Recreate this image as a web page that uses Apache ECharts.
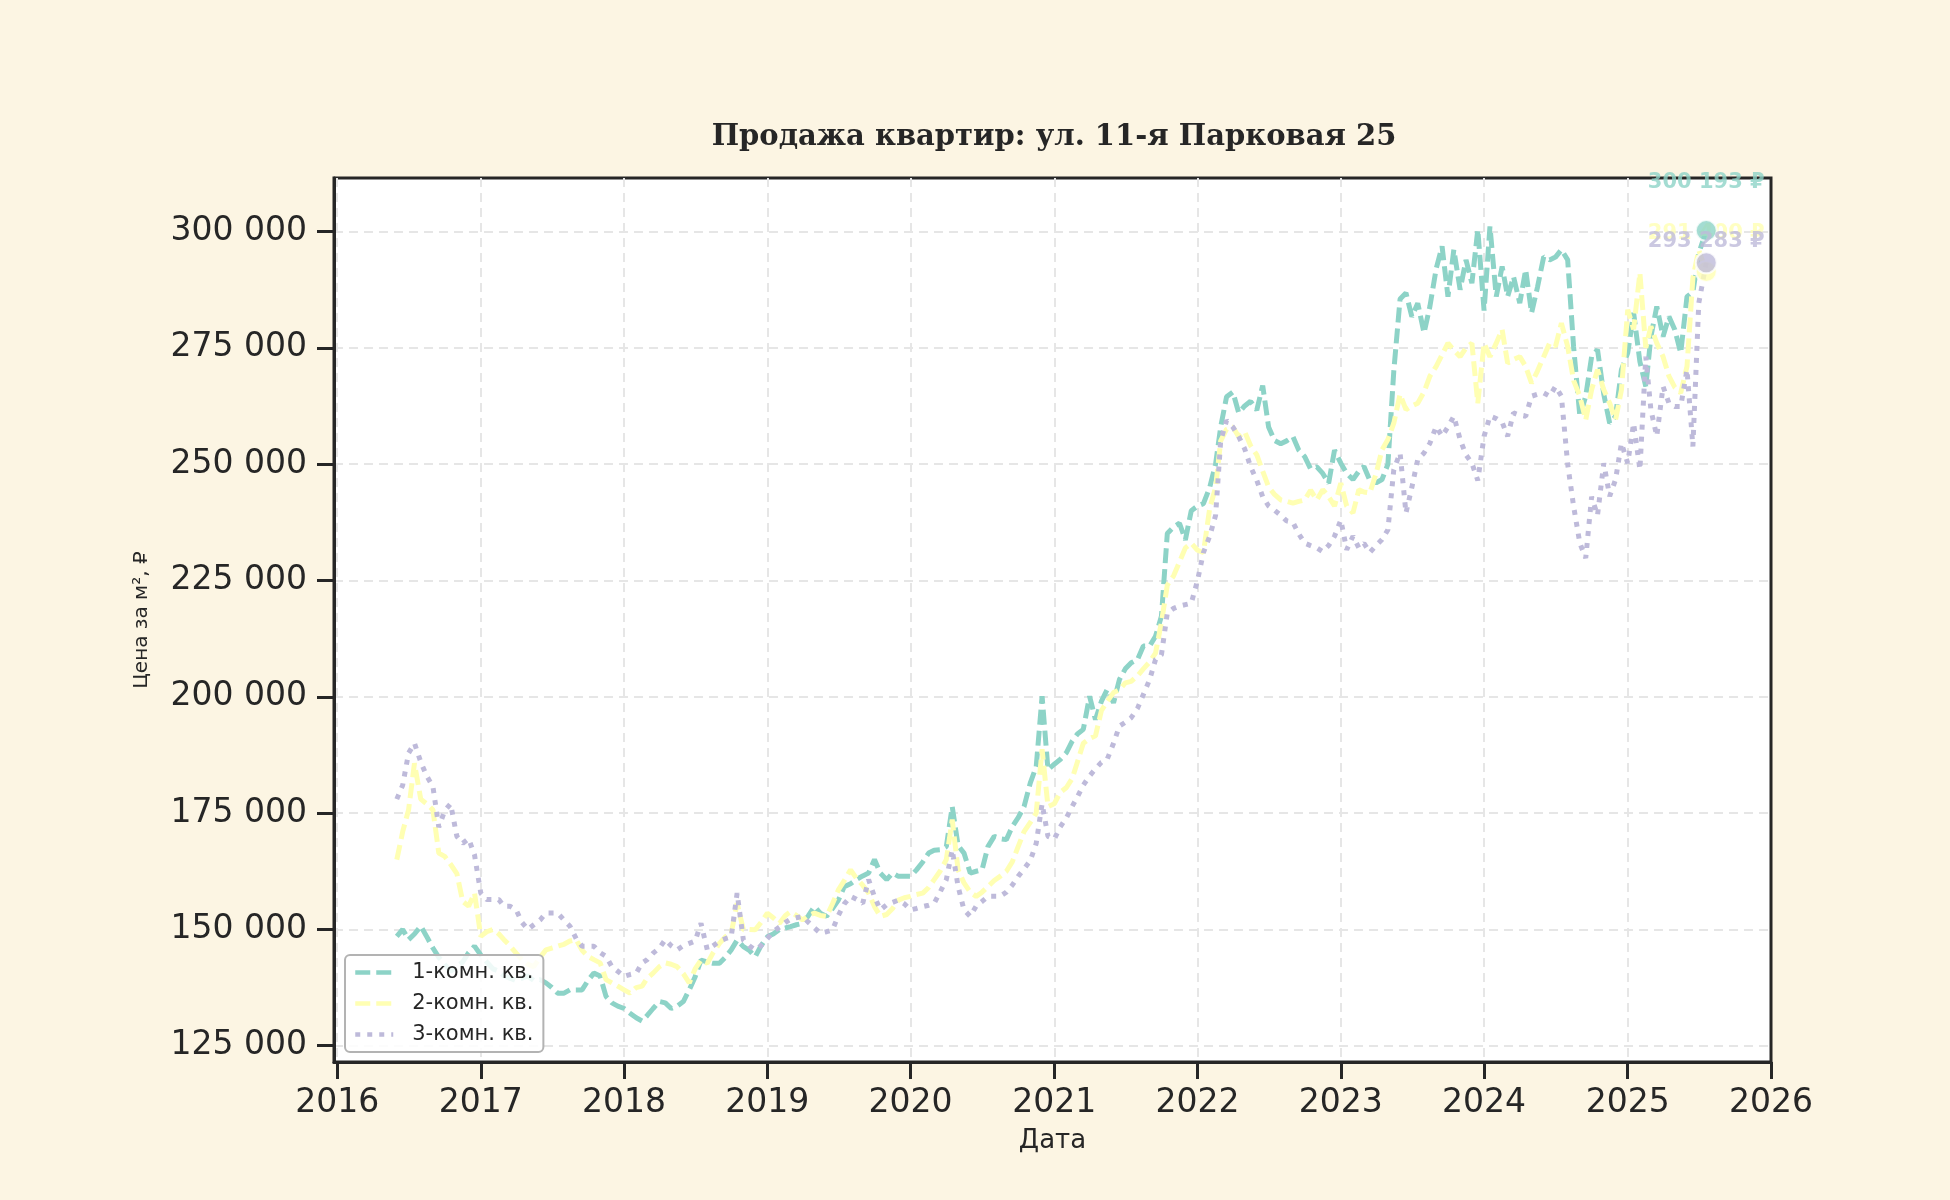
<!DOCTYPE html>
<html>
<head>
<meta charset="utf-8">
<title>Продажа квартир: ул. 11-я Парковая 25</title>
<script src="https://cdn.jsdelivr.net/npm/echarts@6.0.0/dist/echarts.min.js"></script>
<style>
  html, body { margin: 0; padding: 0; background: #fcf5e3; }
  #chart { width: 1950px; height: 1200px; }
</style>
</head>
<body>
<div id="chart"></div>
<script>
// даты наблюдений (1-е и 16-е число месяца) + последняя точка
var dates = [
  '2016-06-01','2016-06-16','2016-07-01','2016-07-16','2016-08-01','2016-08-16','2016-09-01','2016-09-16','2016-10-01','2016-10-16','2016-11-01','2016-11-16','2016-12-01','2016-12-16',
  '2017-01-01','2017-01-16','2017-02-01','2017-02-16','2017-03-01','2017-03-16','2017-04-01','2017-04-16','2017-05-01','2017-05-16','2017-06-01','2017-06-16',
  '2017-07-01','2017-07-16','2017-08-01','2017-08-16','2017-09-01','2017-09-16','2017-10-01','2017-10-16','2017-11-01','2017-11-16','2017-12-01','2017-12-16',
  '2018-01-01','2018-01-16','2018-02-01','2018-02-16','2018-03-01','2018-03-16','2018-04-01','2018-04-16','2018-05-01','2018-05-16','2018-06-01','2018-06-16',
  '2018-07-01','2018-07-16','2018-08-01','2018-08-16','2018-09-01','2018-09-16','2018-10-01','2018-10-16','2018-11-01','2018-11-16','2018-12-01','2018-12-16',
  '2019-01-01','2019-01-16','2019-02-01','2019-02-16','2019-03-01','2019-03-16','2019-04-01','2019-04-16','2019-05-01','2019-05-16','2019-06-01','2019-06-16',
  '2019-07-01','2019-07-16','2019-08-01','2019-08-16','2019-09-01','2019-09-16','2019-10-01','2019-10-16','2019-11-01','2019-11-16','2019-12-01','2019-12-16',
  '2020-01-01','2020-01-16','2020-02-01','2020-02-16','2020-03-01','2020-03-16','2020-04-01','2020-04-16','2020-05-01','2020-05-16','2020-06-01','2020-06-16',
  '2020-07-01','2020-07-16','2020-08-01','2020-08-16','2020-09-01','2020-09-16','2020-10-01','2020-10-16','2020-11-01','2020-11-16','2020-12-01','2020-12-16',
  '2021-01-01','2021-01-16','2021-02-01','2021-02-16','2021-03-01','2021-03-16','2021-04-01','2021-04-16','2021-05-01','2021-05-16','2021-06-01','2021-06-16',
  '2021-07-01','2021-07-16','2021-08-01','2021-08-16','2021-09-01','2021-09-16','2021-10-01','2021-10-16','2021-11-01','2021-11-16','2021-12-01','2021-12-16',
  '2022-01-01','2022-01-16','2022-02-01','2022-02-16','2022-03-01','2022-03-16','2022-04-01','2022-04-16','2022-05-01','2022-05-16','2022-06-01','2022-06-16',
  '2022-07-01','2022-07-16','2022-08-01','2022-08-16','2022-09-01','2022-09-16','2022-10-01','2022-10-16','2022-11-01','2022-11-16','2022-12-01','2022-12-16',
  '2023-01-01','2023-01-16','2023-02-01','2023-02-16','2023-03-01','2023-03-16','2023-04-01','2023-04-16','2023-05-01','2023-05-16','2023-06-01','2023-06-16',
  '2023-07-01','2023-07-16','2023-08-01','2023-08-16','2023-09-01','2023-09-16','2023-10-01','2023-10-16','2023-11-01','2023-11-16','2023-12-01','2023-12-16',
  '2024-01-01','2024-01-16','2024-02-01','2024-02-16','2024-03-01','2024-03-16','2024-04-01','2024-04-16','2024-05-01','2024-05-16','2024-06-01','2024-06-16',
  '2024-07-01','2024-07-16','2024-08-01','2024-08-16','2024-09-01','2024-09-16','2024-10-01','2024-10-16','2024-11-01','2024-11-16','2024-12-01','2024-12-16',
  '2025-01-01','2025-01-16','2025-02-01','2025-02-16','2025-03-01','2025-03-16','2025-04-01','2025-04-16','2025-05-01','2025-05-16','2025-06-01','2025-06-16',
  '2025-07-01','2025-07-20'
];

var oneRoom = [
  148500, 150000, 147800, 149000, 150700, 148500, 146000, 144000, 142500, 141000, 142000, 143000, 145000, 146400,
  144500, 143000, 141500, 141000, 140000, 139500, 139000, 139500, 140000, 139000, 139200, 138500,
  137500, 136300, 136300, 137000, 137000, 137000, 139000, 140600, 140000, 135600, 134200, 133500,
  133000, 132000, 131000, 130300, 131500, 133000, 134500, 134200, 133000, 133500, 134500, 137000,
  139800, 143400, 143000, 142700, 142700, 144000, 145600, 147700, 146300, 145500, 144100, 146500,
  148400, 149000, 150000, 150300, 150600, 151000, 151300, 153000, 154900, 153500, 152800, 154500,
  156300, 159200, 159800, 160700, 161500, 162100, 165000, 162100, 160700, 162100, 161400, 161400,
  161400, 162800, 164500, 166400, 167000, 167100, 167800, 176400, 168000, 166400, 162100, 162500,
  162800, 167800, 170000, 169500, 169300, 172100, 174000, 176400, 181500, 185000, 200100, 184300,
  185500, 186500, 188000, 190500, 192000, 193000, 200100, 195100, 199000, 201600, 198700, 203700,
  206000, 207300, 208000, 210900, 210900, 213000, 217300, 235100, 236500, 237300, 233700, 240000,
  241000, 241500, 245000, 250000, 258000, 264500, 265500, 261000, 262500, 263500, 261600, 266900,
  258000, 255100, 254400, 255000, 255900, 253000, 251600, 249000, 249400, 248000, 245900, 253000,
  250200, 248000, 246700, 248500, 249500, 246500, 246000, 246700, 250000, 270000, 285500, 286800,
  281700, 284600, 278200, 283900, 292000, 296800, 286000, 296100, 287500, 293900, 288900, 300400,
  283000, 301100, 286000, 292500, 286000, 290300, 284600, 291800, 282500, 288000, 294600, 293900,
  294500, 296100, 293900, 275300, 260300, 264600, 273100, 274600, 265000, 258800, 260300, 270300,
  273900, 282500, 272000, 266700, 277400, 283900, 277400, 281700, 278900, 273900, 286000, 287000,
  295300, 300193
];

var twoRoom = [
  165000, 171000, 175700, 185700, 178000, 177000, 175700, 166400, 165700, 164000, 162000, 156000, 155000, 157800,
  148500, 149500, 150000, 149000, 147800, 146500, 144900, 143500, 142500, 142000, 144000, 145600,
  146000, 146400, 146800, 147500, 147800, 145500, 144200, 143500, 142800, 139200, 138500, 137800,
  137000, 136300, 137500, 137800, 139500, 140600, 142000, 142800, 142500, 142000, 140500, 138500,
  141500, 143400, 142700, 145000, 147000, 148400, 149200, 155600, 149900, 150000, 149900, 151500,
  153500, 152500, 151300, 153000, 153800, 153000, 152000, 153000, 153500, 153000, 152800, 155500,
  158500, 160500, 162800, 161000, 159500, 157800, 154900, 152800, 153200, 154500, 156300, 156800,
  157100, 157500, 157800, 159000, 160700, 162500, 165000, 173600, 162800, 160000, 158000, 157100,
  158000, 159200, 160500, 161400, 162500, 164500, 167800, 171000, 173000, 175000, 188700, 176400,
  177000, 179400, 180500, 182500, 186000, 190000, 191000, 191600, 197000, 199000, 200900, 201500,
  203000, 203300, 204500, 206000, 207500, 209400, 216000, 224000, 226000, 229000, 232000, 233000,
  231500, 231000, 240500, 245000, 255000, 257500, 258000, 255900, 257000, 254000, 252000, 248500,
  245100, 243500, 242300, 242000, 241600, 242000, 242300, 244400, 242300, 244500, 243000, 241000,
  245900, 241000, 239500, 244500, 244000, 243800, 248000, 253100, 255300, 258800, 265000, 261700,
  262500, 263100, 265500, 268900, 271000, 273500, 276000, 274500, 273100, 275000, 276000, 263100,
  276000, 273100, 276000, 278900, 271700, 272500, 273100, 271000, 267400, 270000, 273100, 276000,
  275300, 280300, 275300, 268000, 264600, 259500, 266000, 270300, 266000, 263100, 259500, 266000,
  283200, 279000, 291100, 275000, 279600, 276000, 273100, 268900, 266500, 265300, 271000, 290000,
  296000, 291400
];

var threeRoom = [
  178000, 181000, 187900, 190000, 186000, 183000, 180700, 172000, 175500, 177000, 170000, 168500, 169500, 166000,
  157800, 156400, 156400, 156400, 155000, 155000, 154200, 151500, 150000, 151000, 152000, 153500,
  153500, 153500, 152000, 150700, 148000, 146400, 146400, 146400, 145000, 144200, 142000, 141000,
  139900, 140300, 140600, 142800, 143500, 144900, 146000, 147800, 146500, 145600, 146500, 147000,
  147500, 151300, 145600, 146500, 147500, 148000, 148400, 157800, 147700, 146500, 145600, 146500,
  148000, 149500, 150500, 151500, 152200, 152500, 152800, 151500, 150300, 149200, 149500, 149900,
  153000, 155500, 157100, 156500, 155600, 160700, 157000, 154200, 155300, 155800, 156300, 155500,
  154200, 154500, 154900, 155200, 155600, 158000, 160700, 167100, 159200, 154200, 152800, 155000,
  156000, 157100, 157100, 157100, 158000, 159500, 161400, 163000, 164800, 168500, 177000, 170000,
  169400, 172000, 174000, 176500, 178500, 181000, 183000, 184500, 185900, 186600, 190000, 193700,
  194500, 195500, 197500, 200500, 203700, 208000, 209000, 218000, 219000, 219500, 219800, 220100,
  225000, 231000, 234500, 239000, 255000, 259400, 258000, 255900, 253300, 249500, 246500, 243000,
  241000, 240100, 239000, 237800, 237500, 235000, 233000, 232500, 232000, 231200, 232500, 234500,
  238000, 231600, 234500, 232000, 233000, 231000, 232500, 233800, 235900, 248800, 252400, 239500,
  245000, 251000, 252400, 254500, 258100, 256000, 258000, 260300, 255300, 252000, 250200, 246500,
  256000, 260300, 259800, 259000, 256000, 261000, 260500, 260300, 264600, 265000, 265300, 264600,
  266700, 264600, 250000, 241000, 233000, 229800, 243000, 239000, 250200, 243100, 246700, 254500,
  250200, 258800, 248800, 273100, 261700, 256000, 266700, 263100, 262400, 262400, 270300, 253800,
  284600, 293283
];

var seriesNames = ['1-комн. кв.', '2-комн. кв.', '3-комн. кв.'];
var seriesColors = ['#8dd3c7', '#ffffb3', '#bebada'];
var yTicks = [125000, 150000, 175000, 200000, 225000, 250000, 275000, 300000];
var xTickYears = [2016, 2017, 2018, 2019, 2020, 2021, 2022, 2023, 2024, 2025, 2026];

function fmt(v) {
  return String(Math.round(v)).replace(/\B(?=(\d{3})+(?!\d))/g, ' ');
}
function toTs(s) {
  var p = s.split('-');
  return new Date(+p[0], +p[1] - 1, +p[2]).getTime();
}

var xTicks = xTickYears.map(function (y) { return new Date(y, 0, 1).getTime(); });
var allValues = [oneRoom, twoRoom, threeRoom];
var dashTypes = [[15, 6], [15, 6], [5, 7]];
var labelOffsets = [-48, -38, -21];
var dotZ = [4, 3, 5];
var last = dates.length - 1;

var series = [];
allValues.forEach(function (vals, k) {
  series.push({
    name: seriesNames[k],
    type: 'line',
    data: dates.map(function (d, i) { return [toTs(d), vals[i]]; }),
    symbol: 'none',
    z: 2,
    lineStyle: { color: seriesColors[k], width: 5, type: dashTypes[k], cap: 'butt' },
    itemStyle: { color: seriesColors[k] }
  });
});
allValues.forEach(function (vals, k) {
  series.push({
    type: 'scatter',
    data: [[toTs(dates[last]), vals[last]]],
    symbolSize: 21,
    z: dotZ[k],
    itemStyle: { color: seriesColors[k], borderColor: '#ffffff', borderWidth: 2 },
    label: {
      show: true,
      position: 'inside',
      offset: [0, labelOffsets[k]],
      formatter: function (p) { return fmt(p.value[1]) + ' ₽'; },
      color: seriesColors[k],
      fontFamily: 'DejaVu Sans',
      fontWeight: 'bold',
      fontSize: 21
    },
    silent: true
  });
});

var chart = echarts.init(document.getElementById('chart'), null, { renderer: 'canvas' });
chart.setOption({
  backgroundColor: '#fcf5e3',
  animation: false,
  title: {
    text: 'Продажа квартир: ул. 11-я Парковая 25',
    left: 1049,
    top: 118,
    textAlign: 'center',
    textStyle: { fontFamily: 'DejaVu Serif', fontWeight: 'bold', fontSize: 29, color: '#262626' }
  },
  legend: {
    data: seriesNames,
    orient: 'vertical',
    left: 345,
    top: 955,
    itemWidth: 38,
    itemHeight: 20,
    itemGap: 10,
    padding: [7, 10, 7, 8],
    backgroundColor: 'rgba(255,255,255,0.85)',
    borderColor: '#b3b3b3',
    borderWidth: 2,
    borderRadius: 5,
    selectedMode: false,
    itemStyle: { opacity: 0 },
    lineStyle: { width: 4.5 },
    textStyle: { fontFamily: 'DejaVu Sans', fontSize: 21, lineHeight: 20, color: '#262626', padding: [0, 0, 0, 14] }
  },
  grid: {
    left: 334, right: 179, top: 178, bottom: 138,
    show: true,
    backgroundColor: '#ffffff',
    borderColor: '#262626',
    borderWidth: 3
  },
  xAxis: {
    type: 'value',
    min: new Date(2015, 11, 24).getTime(),
    max: new Date(2026, 0, 1).getTime(),
    name: 'Дата',
    nameLocation: 'middle',
    nameGap: 66,
    nameTextStyle: { fontFamily: 'DejaVu Sans', fontSize: 26, color: '#262626' },
    axisLine: { show: true, onZero: false, lineStyle: { color: '#262626', width: 3 } },
    axisTick: {
      show: true, inside: false, length: 17,
      lineStyle: { color: '#262626', width: 3 },
      customValues: xTicks
    },
    axisLabel: {
      margin: 25,
      fontFamily: 'DejaVu Sans', fontSize: 33, color: '#262626',
      customValues: xTicks,
      formatter: function (v) { return String(new Date(v).getFullYear()); }
    },
    splitLine: { show: true, showMaxLine: false, lineStyle: { color: '#e6e6e6', width: 2, type: [9, 6] } }
  },
  yAxis: {
    type: 'value',
    min: 121500,
    max: 311500,
    name: 'Цена за м², ₽',
    nameLocation: 'middle',
    nameGap: 182,
    nameTextStyle: { fontFamily: 'DejaVu Sans', fontSize: 20, color: '#262626' },
    axisLine: { show: true, onZero: false, lineStyle: { color: '#262626', width: 3 } },
    axisTick: {
      show: true, inside: false, length: 17,
      lineStyle: { color: '#262626', width: 3 },
      customValues: yTicks
    },
    axisLabel: {
      margin: 27,
      fontFamily: 'DejaVu Sans', fontSize: 33, color: '#262626',
      customValues: yTicks,
      formatter: function (v) { return fmt(v); }
    },
    splitLine: { show: true, lineStyle: { color: '#e6e6e6', width: 2, type: [9, 6] } }
  },
  series: series
});
</script>
</body>
</html>
